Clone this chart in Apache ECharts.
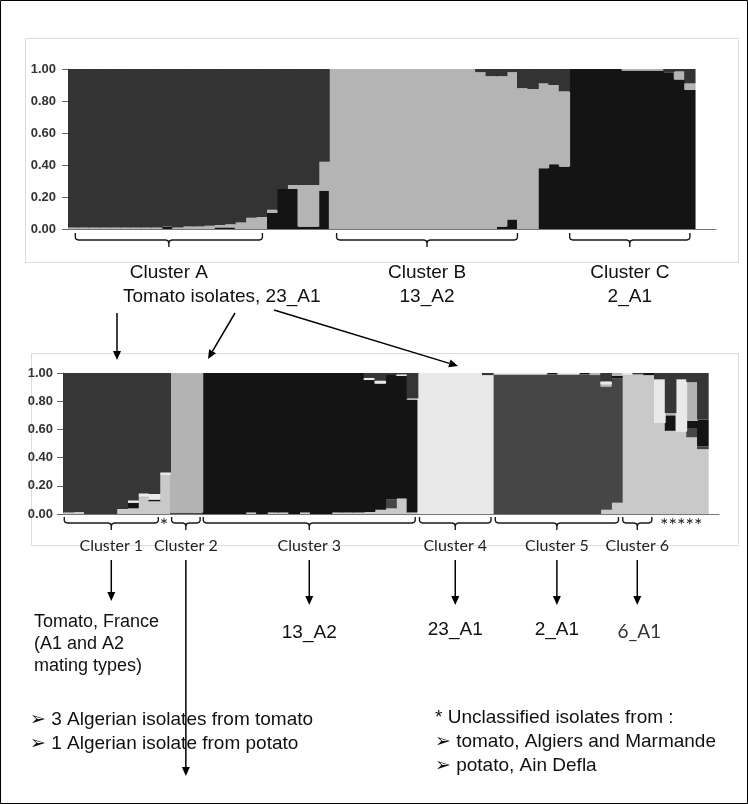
<!DOCTYPE html>
<html>
<head>
<meta charset="utf-8">
<script src="https://cdn.jsdelivr.net/npm/echarts@6/dist/echarts.min.js"></script>
<style>
html, body { margin: 0; padding: 0; background: #fff; }
#main { width: 748px; height: 804px; }
</style>
</head>
<body>
<div id="main"></div>
<script>
// --- data -------------------------------------------------------------
var yTicks = [0, 0.2, 0.4, 0.6, 0.8, 1.0];

// upper plot (K = 3), one value per isolate, stacked bottom -> top
var topBlack = [0,0,0,0,0,0,0,0,0,0.015, 0,0,0,0,0.01,0.01,0,0,0,0.10,
                0.25,0.25,0.015,0.015,0.24, 0,0,0,0,0, 0,0,0,0,0,0,0,0,0,0,
                0,0.015,0.06,0,0,0.38,0.405,0.39,1,1, 1,1,1,0.99,0.99,0.99,0.99,0.98,0.935,0.87];
var topLight = [0.01,0.01,0.01,0.01,0.01,0.01,0.01,0.01,0.01,0, 0.01,0.015,0.015,0.02,0.015,0.02,0.04,0.07,0.075,0.02,
                0,0.025,0.26,0.26,0.18, 1,1,1,1,1, 1,1,1,1,1,1,1,1,1,0.98,
                0.955,0.94,0.92,0.88,0.875,0.53,0.495,0.47,0,0, 0,0,0,0.01,0.01,0.01,0.01,0,0.05,0.04];
var topDark  = [0.99,0.99,0.99,0.99,0.99,0.99,0.99,0.99,0.99,0.985, 0.99,0.985,0.985,0.98,0.975,0.97,0.96,0.93,0.925,0.88,
                0.75,0.725,0.725,0.725,0.58, 0,0,0,0,0, 0,0,0,0,0,0,0,0,0,0.02,
                0.045,0.045,0.02,0.12,0.125,0.09,0.10,0.14,0,0, 0,0,0,0,0,0,0,0.02,0.015,0.09];

// lower plot (K = 6)
var botK6 = [0.01,0.015,0,0,0,0.035,0.04,0.115,0.09,0.28, 0,0,0,0,0,0,0,0.01,0,0.01,
             0.01,0,0.01,0,0,0.01,0.01,0.01,0.015,0.03, 0.04,0.11,0.01,0,0,0,0,0,0,0,
             0,0,0,0,0,0,0,0,0,0, 0.03,0.08,0.99,0.99,0.985,0.645,0.59,0.585,0.544,0.46];
var botK5 = [0,0,0,0,0,0,0,0,0,0, 0.01,0.01,0.01,0,0,0,0,0,0,0,
             0,0,0,0,0,0,0,0,0,0, 0.065,0,0,0,0,0,0,0,0,0,
             0.99,0.99,0.99,0.99,0.99,0.99,0.99,0.99,0.99,0.985, 0.875,0.88,0,0,0,0,0,0,0.066,0.02];
var botK3 = [0,0,0,0,0,0,0.04,0,0.012,0, 0,0,0,1,1,1,1,0.99,1,0.99,
             0.99,1,0.99,1,1,0.99,0.99,0.99,0.935,0.895, 0.88,0.87,0.80,0,0,0,0,0,0,0,
             0,0,0,0,0,0.01,0,0,0.01,0, 0,0.02,0,0,0.015,0,0.11,0,0.05,0.19];
var botK2 = [0,0,0,0,0,0,0,0.01,0,0, 0.99,0.99,0.99,0,0,0,0,0,0,0,
             0,0,0,0,0,0,0,0,0,0, 0,0,0.01,0,0,0,0,0,0,0,
             0,0,0,0,0,0,0,0,0,0.015, 0.015,0.02,0,0,0,0,0.015,0,0.275,0];
var botK4 = [0,0,0,0,0,0,0.015,0.02,0.04,0.015, 0,0,0,0,0,0,0,0,0,0,
             0,0,0,0,0,0,0,0,0.015,0.02, 0,0.01,0,1,1,1,1,1,1,0.985,
             0.01,0.01,0.01,0.01,0.01,0,0.01,0.01,0,0, 0.02,0,0.01,0,0,0.31,0,0.37,0,0];
var botK1 = [0.99,0.985,1,1,1,0.965,0.905,0.855,0.858,0.705, 0,0,0,0,0,0,0,0,0,0,
             0,0,0,0,0,0,0,0,0.035,0.055, 0.015,0.01,0.18,0,0,0,0,0,0,0.015,
             0,0,0,0,0,0,0,0,0,0, 0.06,0,0,0.01,0,0.045,0.285,0.045,0.065,0.33];

var topClusters = ['Cluster A', 'Cluster B', 'Cluster C'];
var topGenotypes = ['13_A2', '2_A1'];
var botClusters = ['Cluster 1', 'Cluster 2', 'Cluster 3', 'Cluster 4', 'Cluster 5', 'Cluster 6'];
var botGenotypes = ['13_A2', '23_A1', '2_A1', '6_A1'];

// --- layout -----------------------------------------------------------
var W = 748, H = 804;
var nTop = 62, nBot = 61;   // a couple of empty slots so the axis runs past the bars
var topCats = [], botCats = [];
for (var i = 0; i < nTop; i++) topCats.push(String(i + 1));
for (var j = 0; j < nBot; j++) botCats.push(String(j + 1));

var gridTop = {left: 68, right: 32, top: 69, bottom: 575};
var gridBot = {left: 63, right: 29, top: 373, bottom: 290};
// bars a touch wider than their slot so no seams show between isolates
var bwTop = (W - gridTop.left - gridTop.right) / nTop + 0.9;
var bwBot = (W - gridBot.left - gridBot.right) / nBot + 0.9;

// bracket spans in bar units [start, end]
var topSpans = [[0.7, 18.6], [25.7, 43.0], [48.0, 59.5]];
var botSpans = [[0.12, 8.86], [10.1, 12.75], [13.05, 32.75], [33.15, 39.8], [40.2, 51.65], [52.05, 54.75]];

var FONT = '"Liberation Sans", Arial, sans-serif';
var BUL = '"Liberation Sans", "DejaVu Sans", sans-serif';
var CAL = 'Lato, "Open Sans", sans-serif';

function yAxisOpt(grid, size, margin) {
    return {
        type: 'value', gridIndex: grid, min: 0, max: 1, interval: 0.2,
        axisLine: {show: true, lineStyle: {color: '#888'}},
        axisTick: {show: true, length: 6, lineStyle: {color: '#666'}},
        splitLine: {show: false},
        axisLabel: {
            margin: margin, color: '#333', fontSize: size, fontWeight: 'bold', fontFamily: FONT,
            formatter: function (v) { return v.toFixed(2); }
        }
    };
}
function xAxisOpt(grid, cats) {
    return {
        type: 'category', gridIndex: grid, data: cats,
        axisLine: {show: true, lineStyle: {color: '#777'}},
        axisTick: {show: false}, axisLabel: {show: false}, splitLine: {show: false}
    };
}
function barSeries(name, data, color, axis, stack, bw) {
    return {
        name: name, type: 'bar', stack: stack, data: data,
        xAxisIndex: axis, yAxisIndex: axis,
        barWidth: bw,
        itemStyle: {color: color},
        emphasis: {disabled: true}
    };
}

var myChart = echarts.init(document.getElementById('main'));
var option = {
    animation: false,
    backgroundColor: '#fff',
    grid: [gridTop, gridBot],
    xAxis: [xAxisOpt(0, topCats), xAxisOpt(1, botCats)],
    yAxis: [yAxisOpt(0, 13, 12), yAxisOpt(1, 13, 10)],
    series: [
        barSeries('C', topBlack, '#141414', 0, 'top', bwTop),
        barSeries('B', topLight, '#b4b4b4', 0, 'top', bwTop),
        barSeries('A', topDark, '#333333', 0, 'top', bwTop),
        barSeries('K6', botK6, '#c9c9c9', 1, 'bot', bwBot),
        barSeries('K5', botK5, '#464646', 1, 'bot', bwBot),
        barSeries('K3', botK3, '#141414', 1, 'bot', bwBot),
        barSeries('K2', botK2, '#b3b3b3', 1, 'bot', bwBot),
        barSeries('K4', botK4, '#e9e9e9', 1, 'bot', bwBot),
        barSeries('K1', botK1, '#363636', 1, 'bot', bwBot)
    ]
};
myChart.setOption(option);

// --- annotations, placed from the axes ---------------------------------
function scale(axis) {
    var c0 = myChart.convertToPixel({xAxisIndex: axis}, topCats[0]);
    var c1 = myChart.convertToPixel({xAxisIndex: axis}, topCats[1]);
    var w = c1 - c0;
    return {x0: c0 - w / 2, w: w, y0: myChart.convertToPixel({yAxisIndex: axis}, 0)};
}
function txt(s, x, y, font, align, color) {
    return {type: 'text', silent: true, z: 20, style: {
        text: s, x: x, y: y, font: font, fill: color || '#000',
        textAlign: align || 'center', textVerticalAlign: 'middle'}};
}
function pline(pts) {
    return {type: 'polyline', silent: true, z: 20, shape: {points: pts},
            style: {fill: null, stroke: '#1a1a1a', lineWidth: 1.4}};
}
function bracket(L, R, t, m, b) {
    var C = (L + R) / 2;
    return [
        pline([[L, t], [L, m - 2.5], [L + 0.8, m - 0.8], [L + 3, m], [C - 3, m], [C - 0.8, m + 0.8], [C, m + 3], [C, b]]),
        pline([[R, t], [R, m - 2.5], [R - 0.8, m - 0.8], [R - 3, m], [C + 3, m], [C + 0.8, m + 0.8], [C, m + 3]])
    ];
}
function arrow(x1, y1, x2, y2) {
    var a = Math.atan2(y2 - y1, x2 - x1), len = 9, hw = 4;
    var bx = x2 - len * Math.cos(a), by = y2 - len * Math.sin(a);
    return [
        {type: 'line', silent: true, z: 20, shape: {x1: x1, y1: y1, x2: bx, y2: by},
         style: {stroke: '#000', lineWidth: 1.5}},
        {type: 'polygon', silent: true, z: 20,
         shape: {points: [[x2, y2], [bx + hw * Math.sin(a), by - hw * Math.cos(a)],
                          [bx - hw * Math.sin(a), by + hw * Math.cos(a)]]},
         style: {fill: '#000'}}
    ];
}

var g = [];
// frame and panel boxes
g.push({type: 'rect', silent: true, z: 0, shape: {x: 0.5, y: 0.5, width: W - 1, height: H - 1},
        style: {fill: 'none', stroke: '#000', lineWidth: 1}});
g.push({type: 'rect', silent: true, z: 0, shape: {x: 25.5, y: 38.5, width: 713, height: 224},
        style: {fill: 'none', stroke: '#dcdcdc', lineWidth: 1}});
g.push({type: 'rect', silent: true, z: 0, shape: {x: 31.5, y: 353.5, width: 707, height: 192},
        style: {fill: 'none', stroke: '#dcdcdc', lineWidth: 1}});

var st = scale(0);
topSpans.forEach(function (s, k) {
    var L = st.x0 + s[0] * st.w, R = st.x0 + s[1] * st.w;
    g = g.concat(bracket(L, R, st.y0 + 4, st.y0 + 11, st.y0 + 18));
    g.push(txt(topClusters[k], (L + R) / 2, 273, '19px ' + FONT, 'center', '#111'));
    if (k > 0) g.push(txt(topGenotypes[k - 1], (L + R) / 2, 297, '19px ' + FONT, 'center', '#111'));
});
g.push(txt('Tomato isolates, 23_A1', 123, 297, '19px ' + FONT, 'left', '#111'));
g = g.concat(arrow(117, 313, 117, 360));
g = g.concat(arrow(235, 313, 208, 359));
g = g.concat(arrow(274, 310, 458, 366));

var sb = scale(1);
var botCenters = [];
botSpans.forEach(function (s, k) {
    var L = sb.x0 + s[0] * sb.w, R = sb.x0 + s[1] * sb.w;
    botCenters.push((L + R) / 2);
    g = g.concat(bracket(L, R, sb.y0 + 3, sb.y0 + 9, sb.y0 + 16));
    g.push(txt(botClusters[k], (L + R) / 2, 546, '16px ' + CAL, 'center', '#222'));
});
g.push(txt('*', sb.x0 + 9.4 * sb.w, 526, '20px ' + CAL, 'center', '#222'));
g.push(txt('*****', sb.x0 + 57.5 * sb.w, 526, '20px ' + CAL, 'center', '#222'));

// arrows from the lower clusters
g = g.concat(arrow(botCenters[0], 560, botCenters[0], 601));
g = g.concat(arrow(botCenters[1], 560, botCenters[1], 776));
for (var q = 2; q < 6; q++) g = g.concat(arrow(botCenters[q], 560, botCenters[q], 605));

g.push(txt('Tomato, France', 34, 622, '18px ' + FONT, 'left', '#111'));
g.push(txt('(A1 and A2', 34, 644, '18px ' + FONT, 'left', '#111'));
g.push(txt('mating types)', 34, 666, '18px ' + FONT, 'left', '#111'));
g.push(txt(botGenotypes[0], botCenters[2], 633, '19px ' + FONT, 'center', '#111'));
g.push(txt(botGenotypes[1], botCenters[3], 630, '19px ' + FONT, 'center', '#111'));
g.push(txt(botGenotypes[2], botCenters[4], 630, '19px ' + FONT, 'center', '#111'));
g.push(txt(botGenotypes[3], botCenters[5] + 2, 632, '19px ' + CAL, 'center', '#333'));

g.push(txt('\u27A2 3 Algerian isolates from tomato', 30, 720, '19px ' + BUL, 'left', '#111'));
g.push(txt('\u27A2 1 Algerian isolate from potato', 30, 744, '19px ' + BUL, 'left', '#111'));
g.push(txt('* Unclassified isolates from :', 435, 718, '19px ' + FONT, 'left', '#111'));
g.push(txt('\u27A2 tomato, Algiers and Marmande', 435, 742, '19px ' + BUL, 'left', '#111'));
g.push(txt('\u27A2 potato, Ain Defla', 435, 766, '19px ' + BUL, 'left', '#111'));

myChart.setOption({graphic: g});

window.onresize = function () {
    setTimeout(function () { myChart.resize(); }, 200);
};
</script>
</body>
</html>
